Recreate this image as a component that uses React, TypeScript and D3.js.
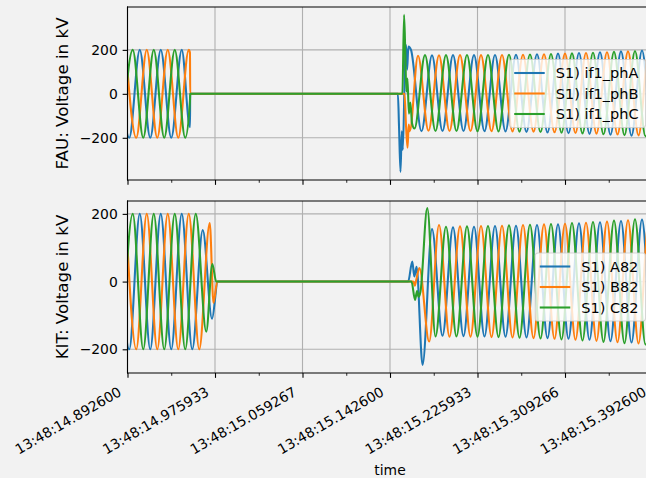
import React, { useEffect, useRef } from "react";
import * as d3 from "d3";

type Pt = [number, number];

// x tick labels; their positions come from the seconds written in them
const TIME_LABELS = [
  "13:48:14.892600",
  "13:48:14.975933",
  "13:48:15.059267",
  "13:48:15.142600",
  "13:48:15.225933",
  "13:48:15.309266",
  "13:48:15.392600",
];
const Y_TICKS = [-200, 0, 200];

const FAU_LABELS = ["S1) if1_phA", "S1) if1_phB", "S1) if1_phC"];
const KIT_LABELS = ["S1) A82", "S1) B82", "S1) C82"];

// key points: [ms after 13:48:14.892600, kV]
// (peaks, troughs and the edges of the switching events)
const FAU_A_START: Pt[] = [
  [-8.33, 200], [1.67, -200], [11.67, 200], [21.67, -200], [31.67, 200], [41.67, -200], [51.67, 200],
  [59.5, -152], [59.7, 0],
  [257.5, 0], [258.6, -150], [260, -355], [261.2, -170], [262.2, -255], [264.3, 140], [265.3, 222],
  [266.3, 110], [267.5, 215], [270, 200],
];
const FAU_B_START: Pt[] = [
  [-1.67, 200], [8.33, -200], [18.33, 200], [28.33, -200], [38.33, 200], [48.33, -200], [58.33, 200],
  [59.5, 187], [59.7, 0],
  [263.8, 0], [265.3, -150], [266.7, -245], [267.8, -140], [268.8, -170],
];
const FAU_C_START: Pt[] = [
  [-5, -200], [5, 200], [15, -200], [25, 200], [35, -200], [45, 200], [55, -200],
  [59.5, -30], [59.7, 0],
  [261.8, 0], [263.4, 359], [264.6, 180], [265.6, 10], [266.6, 70], [268, -90], [269.4, -40], [271, -135],
];

// steady state after recovery: one extremum every half cycle
const FAU_A_T0 = 280;
const FAU_A_PEAKS = [-170, 175, -169, 176, -169, 176, -170, 177, -171, 178, -173, 180, -176, 183, -179, 186, -182, 189, -186, 193, -190, 197, -195, 200];
const FAU_B_T0 = 276.67;
const FAU_B_PEAKS = [173, -168, 175, -169, 176, -169, 176, -170, 177, -171, 178, -172, 180, -175, 183, -178, 186, -181, 189, -185, 193, -189, 197, -194];
const FAU_C_T0 = 273.33;
const FAU_C_PEAKS = [-158, 176, -169, 176, -169, 177, -170, 177, -171, 178, -172, 179, -174, 181, -177, 184, -180, 187, -184, 191, -188, 195, -193, 199];

const KIT_A_START: Pt[] = [
  [-8.33, 200], [1.67, -200], [11.67, 200], [21.67, -200], [31.67, 200], [41.67, -200], [51.67, 200],
  [61.67, -200], [71.67, 152], [80.5, -110], [86, 0],
  [267.3, 0], [271.2, 59], [273.2, 15], [275.3, 44], [281, -246],
];
const KIT_B_START: Pt[] = [
  [-1.67, 200], [8.33, -200], [18.33, 200], [28.33, -200], [38.33, 200], [48.33, -200], [58.33, 200],
  [68.33, -200], [78.33, 173], [81.9, -63], [85.5, 0],
  [272.2, 0], [273.6, -12], [275, 5], [278, 40], [287.3, -177],
];
const KIT_C_START: Pt[] = [
  [-5, -200], [5, 200], [15, -200], [25, 200], [35, -200], [45, 200], [55, -200],
  [65, 200], [75, -148], [80.8, 52], [84.5, 0],
  [270.5, 0], [273.8, -54], [275.8, -28], [277.3, -45], [279, -30], [285.5, 217],
];

const KIT_A_T0 = 290;
const KIT_A_PEAKS = [155, -160, 160, -161, 162, -162, 164, -163, 165, -165, 167, -167, 169, -169, 172, -172, 175, -176, 179, -180, 183, -185, 187];
const KIT_B_T0 = 296.67;
const KIT_B_PEAKS = [167, -163, 163, -163, 164, -164, 165, -165, 167, -167, 169, -169, 171, -172, 174, -175, 177, -179, 181, -183, 186, -187];
const KIT_C_T0 = 293.33;
const KIT_C_PEAKS = [-162, 162, -162, 163, -163, 164, -164, 166, -166, 168, -168, 170, -171, 173, -174, 176, -178, 180, -182, 184, -186, 188];

const HALF_CYCLE = 10; // ms at 50 Hz
const withPeaks = (start: Pt[], t0: number, peaks: number[]): Pt[] =>
  start.concat(peaks.map((v, i) => [t0 + i * HALF_CYCLE, v] as Pt));

const COLORS = ["#1f77b4", "#ff7f0e", "#2ca02c"];
const FONT = "'DejaVu Sans', sans-serif";
const FS = 13.9;
const LEGEND_FS = 14.5;
const BG = "#f2f2f2";

const toSec = (s: string) => {
  const [h, m, sec] = s.split(":").map(Number);
  return h * 3600 + m * 60 + sec;
};

const App = () => {
  const ref = useRef<SVGSVGElement>(null);

  useEffect(() => {
    const svg = d3.select(ref.current);
    svg.selectAll("*").remove();

    const T0 = toSec(TIME_LABELS[0]);
    const tickMs = TIME_LABELS.map((l) => (toSec(l) - T0) * 1000);
    const minorMs = d3.pairs(tickMs).map(([a, b]) => (a + b) / 2);

    const x0 = 127.5;
    const x1 = 652.5;
    const x = d3.scaleLinear().domain([tickMs[0], tickMs[tickMs.length - 1]]).range([x0, x1]);

    const panels = [
      {
        id: "fau", top: 7, bottom: 180, yDomain: [-392, 395], ylabel: "FAU: Voltage in kV",
        labels: FAU_LABELS,
        series: [
          withPeaks(FAU_A_START, FAU_A_T0, FAU_A_PEAKS),
          withPeaks(FAU_B_START, FAU_B_T0, FAU_B_PEAKS),
          withPeaks(FAU_C_START, FAU_C_T0, FAU_C_PEAKS),
        ],
        showX: false,
      },
      {
        id: "kit", top: 201, bottom: 373, yDomain: [-270, 238], ylabel: "KIT: Voltage in kV",
        labels: KIT_LABELS,
        series: [
          withPeaks(KIT_A_START, KIT_A_T0, KIT_A_PEAKS),
          withPeaks(KIT_B_START, KIT_B_T0, KIT_B_PEAKS),
          withPeaks(KIT_C_START, KIT_C_T0, KIT_C_PEAKS),
        ],
        showX: true,
      },
    ];

    panels.forEach((p) => {
      const y = d3.scaleLinear().domain(p.yDomain).range([p.bottom, p.top]);
      const g = svg.append("g").attr("id", p.id);

      g.append("clipPath").attr("id", "clip-" + p.id)
        .append("rect")
        .attr("x", x0).attr("y", p.top)
        .attr("width", x1 - x0).attr("height", p.bottom - p.top);

      // grid
      const grid = g.append("g").attr("stroke", "#b0b0b0").attr("stroke-width", 1.1);
      tickMs.forEach((t) => {
        grid.append("line").attr("x1", x(t)).attr("x2", x(t)).attr("y1", p.top).attr("y2", p.bottom);
      });
      Y_TICKS.forEach((v) => {
        grid.append("line").attr("x1", x0).attr("x2", x1).attr("y1", y(v)).attr("y2", y(v));
      });

      // waveforms
      const line = d3.line<Pt>()
        .x((d) => x(d[0]))
        .y((d) => y(d[1]))
        .curve(d3.curveMonotoneX);
      const lines = g.append("g").attr("clip-path", "url(#clip-" + p.id + ")");
      p.series.forEach((s, i) => {
        lines.append("path")
          .attr("d", line(s))
          .attr("fill", "none")
          .attr("stroke", COLORS[i])
          .attr("stroke-width", 2.08)
          .attr("stroke-linejoin", "round");
      });

      // spines
      const spines = g.append("g").attr("stroke", "#000").attr("stroke-width", 1.1).attr("stroke-linecap", "square");
      spines.append("line").attr("x1", x0).attr("x2", x0).attr("y1", p.top).attr("y2", p.bottom);
      spines.append("line").attr("x1", x0).attr("x2", x1).attr("y1", p.top).attr("y2", p.top);
      spines.append("line").attr("x1", x0).attr("x2", x1).attr("y1", p.bottom).attr("y2", p.bottom);

      // y axis
      const yAxis = g.append("g").attr("transform", `translate(${x0},0)`)
        .call(d3.axisLeft(y).tickValues(Y_TICKS).tickSize(4.86).tickPadding(4.86).tickSizeOuter(0));
      yAxis.select(".domain").remove();
      yAxis.attr("font-family", FONT).attr("font-size", FS);
      yAxis.selectAll("line").attr("stroke", "#000").attr("stroke-width", 1.1);
      yAxis.selectAll("text").attr("fill", "#000");

      // x ticks (major + minor)
      const xAxis = g.append("g").attr("transform", `translate(0,${p.bottom})`)
        .call(d3.axisBottom(x).tickValues(tickMs).tickSize(4.86).tickSizeOuter(0).tickFormat(() => ""));
      xAxis.select(".domain").remove();
      xAxis.selectAll("line").attr("stroke", "#000").attr("stroke-width", 1.1);
      const xMinor = g.append("g").attr("transform", `translate(0,${p.bottom})`)
        .call(d3.axisBottom(x).tickValues(minorMs).tickSize(2.78).tickSizeOuter(0).tickFormat(() => ""));
      xMinor.select(".domain").remove();
      xMinor.selectAll("line").attr("stroke", "#000").attr("stroke-width", 0.84);

      if (p.showX) {
        tickMs.forEach((t, i) => {
          g.append("text")
            .attr("transform", `translate(${x(t) - 5},${p.bottom + 9.72 + 12}) rotate(-30)`)
            .attr("text-anchor", "end")
            .attr("font-family", FONT)
            .attr("font-size", FS)
            .attr("fill", "#000")
            .text(TIME_LABELS[i]);
        });
        g.append("text")
          .attr("x", (x0 + x1) / 2)
          .attr("y", 475)
          .attr("text-anchor", "middle")
          .attr("font-family", FONT)
          .attr("font-size", FS)
          .attr("fill", "#000")
          .text("time");
      }

      // y label
      g.append("text")
        .attr("transform", `translate(68,${(p.top + p.bottom) / 2}) rotate(-90)`)
        .attr("text-anchor", "middle")
        .attr("font-family", FONT)
        .attr("font-size", 16.7)
        .attr("fill", "#000")
        .text(p.ylabel);

      // legend, center right
      const lg = g.append("g");
      const box = lg.append("rect");
      const texts = p.labels.map((l) =>
        lg.append("text")
          .attr("font-family", FONT)
          .attr("font-size", LEGEND_FS)
          .attr("fill", "#000")
          .attr("dy", "0.35em")
          .text(l)
      );
      const tw = d3.max(texts, (t) => (t.node() as SVGTextElement).getComputedTextLength()) || 0;
      const padL = 4.5;
      const padR = 7;
      const handle = 30.5;
      const gap = 11;
      const rowH = 20.5;
      const w = padL + handle + gap + tw + padR;
      const h = 68;
      const bx = x1 - 6.95 - w;
      const cy = (p.top + p.bottom) / 2;
      box.attr("x", bx).attr("y", cy - h / 2).attr("width", w).attr("height", h)
        .attr("rx", 2.8)
        .attr("fill", "#ffffff").attr("fill-opacity", 0.8)
        .attr("stroke", "#cccccc").attr("stroke-opacity", 0.8).attr("stroke-width", 1.1);
      texts.forEach((t, i) => {
        const ry = cy + (i - 1) * rowH;
        lg.append("line")
          .attr("x1", bx + padL).attr("x2", bx + padL + handle)
          .attr("y1", ry).attr("y2", ry)
          .attr("stroke", COLORS[i]).attr("stroke-width", 2.08);
        t.attr("x", bx + padL + handle + gap).attr("y", ry);
      });
    });
  }, []);

  return (
    <svg
      ref={ref}
      width={646}
      height={478}
      style={{ position: "absolute", left: 0, top: 0, background: BG }}
    />
  );
};

export default App;
